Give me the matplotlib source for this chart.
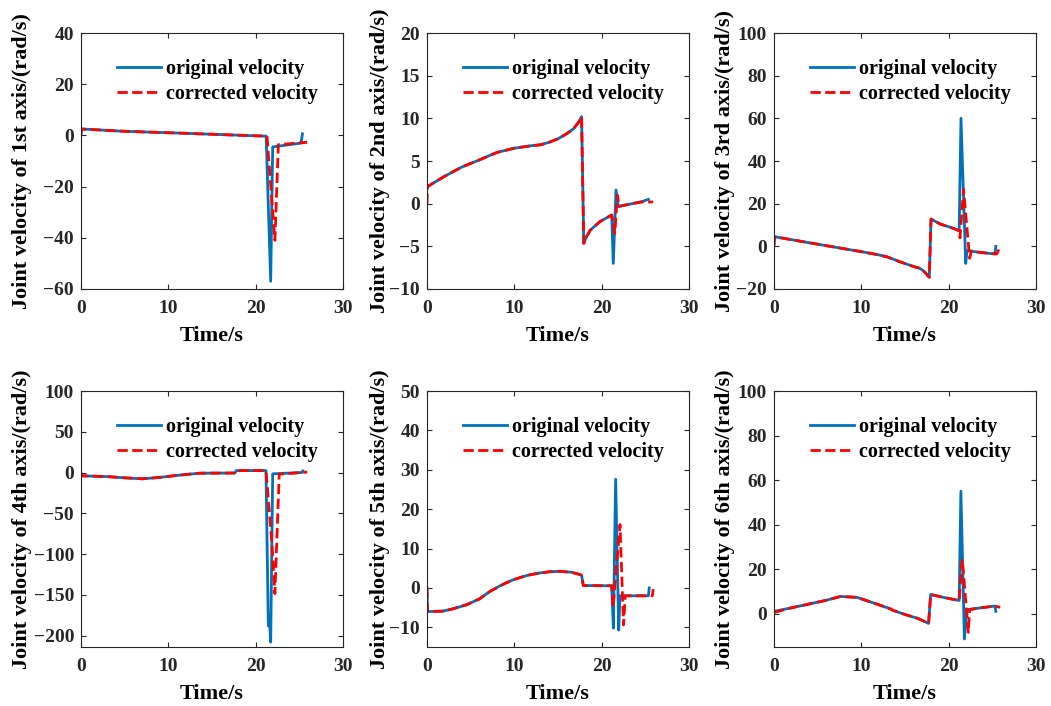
import matplotlib
matplotlib.use("Agg")
import matplotlib.pyplot as plt

plt.rcParams['font.family'] = ['Liberation Serif', 'DejaVu Serif']
plt.rcParams['font.weight'] = 'bold'
plt.rcParams['font.size'] = 16

# ---- joint 1 ----
t1_orig = [0, 0.05, 5, 11.3, 17, 21.2, 21.72, 21.95, 25.2, 25.35]
v1_orig = [0.5, 2.5, 1.6, 0.9, 0.2, -0.3, -57, -4.5, -3.0, 0.6]
t1_corr = [0, 0.05, 5, 11.3, 17, 21.3, 22.2, 22.6, 25.9]
v1_corr = [0.3, 2.5, 1.6, 0.9, 0.2, -0.3, -41, -3.6, -2.7]

# ---- joint 2 ----
t2_orig = [0, 0.05, 2, 4, 5.7, 8, 10, 12, 13, 14, 15, 16, 16.8, 17.4, 17.7,
           17.95, 18.3, 18.7, 19.8, 21.15, 21.33, 21.64, 21.9, 23, 24.5, 25.35]
v2_orig = [1.7, 2.0, 3.2, 4.3, 5.0, 6.0, 6.5, 6.8, 6.9, 7.2, 7.6, 8.2, 8.8, 9.6, 10.2,
           -4.65, -3.8, -3.1, -2.1, -1.33, -7.0, 1.6, -0.35, -0.1, 0.2, 0.5]
t2_corr = [0, 0.05, 2, 4, 5.7, 8, 10, 12, 13, 14, 15, 16, 16.8, 17.4, 17.7,
           17.95, 18.3, 18.7, 19.8, 21.15, 21.5, 21.8, 22.0, 23, 24.5, 25.9]
v2_corr = [0.0, 2.0, 3.2, 4.3, 5.0, 6.0, 6.5, 6.8, 6.9, 7.2, 7.6, 8.2, 8.8, 9.6, 10.2,
           -4.65, -3.8, -3.1, -2.1, -1.33, -3.5, 1.0, -0.3, -0.1, 0.2, 0.2]

# ---- joint 3 ----
t3_orig = [0, 0.05, 5, 10, 12, 13, 14.4, 16, 16.7, 17.2, 17.78, 17.98, 19, 20.5, 21.2,
           21.41, 21.95, 22.1, 23.5, 25.3, 25.4]
v3_orig = [0.5, 4.5, 1.0, -2.5, -4.0, -5.0, -7.2, -9.5, -10.3, -11.8, -14.5, 12.8, 10.5, 8.5, 7.3,
           60, -8, -2, -2.8, -3.6, 0]
t3_corr = [0, 0.05, 5, 10, 12, 13, 14.4, 16, 16.7, 17.2, 17.78, 17.98, 19, 20.5, 21.2,
           21.3, 21.7, 22.4, 22.6, 23.5, 25.5, 25.9]
v3_corr = [0.5, 4.5, 1.0, -2.5, -4.0, -5.0, -7.2, -9.5, -10.3, -11.8, -14.5, 12.8, 10.5, 8.5, 7.3,
           4.0, 26.7, -5.6, -2.2, -2.8, -3.6, -0.2]

# ---- joint 4 ----
t4_orig = [0, 0.05, 3, 5, 7, 9, 11, 13.6, 17.6, 17.8, 21.18, 21.45, 21.55, 21.72, 21.95,
           25.27, 25.4]
v4_orig = [-3.0, -4.0, -5.0, -6.5, -7.7, -6.0, -3.5, -0.8, -0.6, 2.4, 2.4, -188, -175, -208, -1.6,
           0, 2]
t4_corr = [0, 0.05, 3, 5, 7, 9, 11, 13.6, 17.6, 17.8, 21.18, 21.84, 22.2, 22.7, 25.9]
v4_corr = [0.0, -4.0, -5.0, -6.5, -7.7, -6.0, -3.5, -0.8, -0.6, 2.4, 2.4, -84.5, -148.5, -2.0, 0.5]

# ---- joint 5 ----
t5_orig = [0, 0.05, 1.8, 3, 4.5, 6, 7.2, 8.5, 9.9, 11.5, 12.9, 14, 15.2, 16.5, 17.5, 17.7,
           17.9, 21.15, 21.34, 21.6, 21.95, 22.1, 25.35, 25.45]
v5_orig = [0, -6.0, -5.9, -5.3, -4.3, -2.8, -0.9, 0.7, 2.1, 3.2, 3.8, 4.1, 4.2, 4.0, 3.4, 3.2,
           0.6, 0.55, -10.2, 27.6, -10.7, -2.0, -2.0, 0]
t5_corr = [0, 0.05, 1.8, 3, 4.5, 6, 7.2, 8.5, 9.9, 11.5, 12.9, 14, 15.2, 16.5, 17.5, 17.7,
           17.9, 21.15, 21.3, 22.1, 22.5, 22.7, 25.8, 25.9]
v5_corr = [0, -6.0, -5.9, -5.3, -4.3, -2.8, -0.9, 0.7, 2.1, 3.2, 3.8, 4.1, 4.2, 4.0, 3.4, 3.2,
           0.6, 0.55, -5.0, 16.1, -9.4, -2.0, -2.0, -0.3]

# ---- joint 6 ----
t6_orig = [0, 2, 4, 6, 7.6, 9.5, 11, 13.3, 13.6, 15, 16.5, 17.7, 17.94, 19.5, 21.2,
           21.4, 21.8, 22.1, 23.5, 25.3, 25.4]
v6_orig = [1.0, 2.6, 4.3, 6.0, 7.7, 7.3, 5.3, 2.2, 1.5, -0.4, -2.2, -4.4, 8.6, 7.2, 5.9,
           55, -11.4, 1.8, 2.5, 3.4, 1.0]
t6_corr = [0, 2, 4, 6, 7.6, 9.5, 11, 13.3, 13.6, 15, 16.5, 17.7, 17.94, 19.5, 21.2,
           21.56, 22.25, 22.4, 23.5, 25.3, 25.9]
v6_corr = [0.5, 2.6, 4.3, 6.0, 7.7, 7.3, 5.3, 2.2, 1.5, -0.4, -2.2, -4.4, 8.6, 7.2, 5.9,
           24.4, -8.4, 1.8, 2.5, 3.4, 2.8]

ylabels = ["Joint velocity of 1st axis/(rad/s)", "Joint velocity of 2nd axis/(rad/s)",
           "Joint velocity of 3rd axis/(rad/s)", "Joint velocity of 4th axis/(rad/s)",
           "Joint velocity of 5th axis/(rad/s)", "Joint velocity of 6th axis/(rad/s)"]
ylims = [(-60, 40), (-10, 20), (-20, 100), (-214, 100), (-15, 50), (-15, 100)]
yticks = [range(-60, 41, 20), range(-10, 21, 5), range(-20, 101, 20),
          range(-200, 101, 50), range(-10, 51, 10), range(0, 101, 20)]
xticks = [0, 10, 20, 30]
legend_labels = ["original velocity", "corrected velocity"]

series = [(t1_orig, v1_orig, t1_corr, v1_corr),
          (t2_orig, v2_orig, t2_corr, v2_corr),
          (t3_orig, v3_orig, t3_corr, v3_corr),
          (t4_orig, v4_orig, t4_corr, v4_corr),
          (t5_orig, v5_orig, t5_corr, v5_corr),
          (t6_orig, v6_orig, t6_corr, v6_corr)]

W, H = 1051, 706
fig = plt.figure(figsize=(W / 100, H / 100), dpi=100)
lefts = [81, 427, 774]
tops = [33, 391]
aw, ah = 262, 256
# horizontal centre of each column's y-label, in axes fractions
ylabel_x = [-0.225, -0.179, -0.187]

axis_color = '#262626'
for i, (to, vo, tc, vc) in enumerate(series):
    r, c = divmod(i, 3)
    ax = fig.add_axes([lefts[c] / W, 1 - (tops[r] + ah) / H, aw / W, ah / H])
    ax.plot(to, vo, color='#0072BD', lw=2.0, label=legend_labels[0])
    ax.plot(tc, vc, color='#FF0000', lw=2.0, ls='--', label=legend_labels[1])
    ax.set_xlim(0, 30)
    ax.set_ylim(*ylims[i])
    ax.set_xticks(xticks)
    ax.set_yticks(list(yticks[i]))
    ax.set_xlabel("Time/s", fontweight='bold', fontsize=16, va='center')
    ax.set_ylabel(ylabels[i], fontweight='bold', fontsize=16, va='center')
    ax.xaxis.set_label_coords(0.5, -0.184)
    ax.yaxis.set_label_coords(ylabel_x[c], 0.5)
    for s in ax.spines.values():
        s.set_color(axis_color)
        s.set_linewidth(0.8)
    ax.tick_params(direction='in', top=True, right=True, length=3.5, width=0.8,
                   color=axis_color, labelcolor='#262626', labelsize=14)
    ax.tick_params(axis='x', pad=8)
    ax.tick_params(axis='y', pad=5)
    for lab in ax.get_xticklabels() + ax.get_yticklabels():
        lab.set_fontweight('bold')
    ax.legend(loc='upper left', bbox_to_anchor=(0.137, 0.9), frameon=False,
              borderaxespad=0, borderpad=0, handlelength=2.2, handletextpad=0.25,
              labelspacing=0.25, prop={'weight': 'bold', 'size': 14.5})

fig.savefig("out.png", dpi=100)
